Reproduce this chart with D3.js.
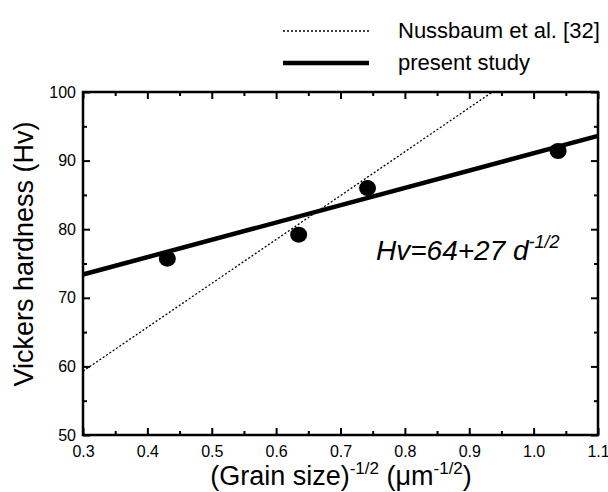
<!DOCTYPE html>
<html>
<head>
<meta charset="utf-8">
<script src="https://cdn.jsdelivr.net/npm/d3@7"></script>
<style>
  body { margin: 0; background: #fff; }
  text { font-family: "Liberation Sans", Arial, sans-serif; fill: #000; }
</style>
</head>
<body>
<svg id="chart" width="608" height="492"></svg>
<script>
// measured points
var grainSize = [0.431, 0.635, 0.742, 1.038]
var hardness = [75.7, 79.2, 86.0, 91.4]

// fitted lines (end points)
var presentLine = [[0.3, 73.4], [1.1, 93.6]]
var nussbaumLine = [[0.3, 59.3], [0.936, 100]]

var xTicks = [0.3, 0.4, 0.5, 0.6, 0.7, 0.8, 0.9, 1.0, 1.1]
var yTicks = [50, 60, 70, 80, 90, 100]

var margin = { top: 92, right: 10, bottom: 57, left: 83 }
var width = 608, height = 492
var plotW = width - margin.left - margin.right
var plotH = height - margin.top - margin.bottom

var svg = d3.select("#chart")

var x = d3.scaleLinear().domain([0.3, 1.1]).range([margin.left, margin.left + plotW])
var y = d3.scaleLinear().domain([50, 100]).range([margin.top + plotH, margin.top])

// minor ticks
var xMinor = d3.range(0.35, 1.1, 0.1)
var yMinor = d3.range(55, 100, 10)

function addAxis(axis, tx, ty) {
  var g = svg.append("g")
    .attr("transform", "translate(" + tx + "," + ty + ")")
    .call(axis)
  g.select(".domain").remove()
  g.selectAll("line").attr("stroke", "#000").attr("stroke-width", 2)
  return g
}

// bottom
var bx = addAxis(d3.axisBottom(x).tickValues(xTicks).tickSize(-7).tickPadding(11).tickFormat(d3.format(".1f")), 0, margin.top + plotH)
bx.selectAll("text").attr("font-size", 16).attr("font-family", "Liberation Sans, Arial, sans-serif")
addAxis(d3.axisBottom(x).tickValues(xMinor).tickSize(-4).tickFormat(""), 0, margin.top + plotH)
// top
addAxis(d3.axisTop(x).tickValues(xTicks).tickSize(-7).tickFormat(""), 0, margin.top)
addAxis(d3.axisTop(x).tickValues(xMinor).tickSize(-4).tickFormat(""), 0, margin.top)
// left
var ly = addAxis(d3.axisLeft(y).tickValues(yTicks).tickSize(-7).tickPadding(7), margin.left, 0)
ly.selectAll("text").attr("font-size", 16).attr("font-family", "Liberation Sans, Arial, sans-serif")
addAxis(d3.axisLeft(y).tickValues(yMinor).tickSize(-4).tickFormat(""), margin.left, 0)
// right
addAxis(d3.axisRight(y).tickValues(yTicks).tickSize(-7).tickFormat(""), margin.left + plotW, 0)
addAxis(d3.axisRight(y).tickValues(yMinor).tickSize(-4).tickFormat(""), margin.left + plotW, 0)

// frame
svg.append("rect")
  .attr("x", margin.left)
  .attr("y", margin.top)
  .attr("width", plotW)
  .attr("height", plotH)
  .attr("fill", "none")
  .attr("stroke", "#000")
  .attr("stroke-width", 2.5)

var line = d3.line().x(function(d){ return x(d[0]) }).y(function(d){ return y(d[1]) })

svg.append("path")
  .datum(nussbaumLine)
  .attr("d", line)
  .attr("fill", "none")
  .attr("stroke", "#000")
  .attr("stroke-width", 1.3)
  .attr("stroke-dasharray", "2,2")

svg.append("path")
  .datum(presentLine)
  .attr("d", line)
  .attr("fill", "none")
  .attr("stroke", "#000")
  .attr("stroke-width", 4.5)

svg.selectAll(".pt")
  .data(grainSize)
  .enter()
  .append("ellipse")
  .attr("class", "pt")
  .attr("cx", function(d){ return x(d) })
  .attr("cy", function(d, i){ return y(hardness[i]) })
  .attr("rx", 8.5)
  .attr("ry", 8)
  .attr("fill", "#000")

// legend
svg.append("line")
  .attr("x1", 283).attr("x2", 369).attr("y1", 31).attr("y2", 31)
  .attr("stroke", "#000").attr("stroke-width", 1.3).attr("stroke-dasharray", "2,2")
svg.append("text").attr("x", 398).attr("y", 38).attr("font-size", 22).text("Nussbaum et al. [32]")
svg.append("line")
  .attr("x1", 283).attr("x2", 369).attr("y1", 63).attr("y2", 63)
  .attr("stroke", "#000").attr("stroke-width", 4.5)
svg.append("text").attr("x", 398).attr("y", 70).attr("font-size", 22).text("present study")

// equation
var eq = svg.append("text")
  .attr("x", 376).attr("y", 260)
  .attr("font-size", 28).attr("font-style", "italic")
eq.append("tspan").text("Hv=64+27 d")
eq.append("tspan").attr("font-size", 18).attr("dy", -12).text("-1/2")

// axis titles
svg.append("text")
  .attr("transform", "translate(33,254) rotate(-90)")
  .attr("text-anchor", "middle")
  .attr("font-size", 27)
  .text("Vickers hardness (Hv)")

var xt = svg.append("text")
  .attr("x", 341)
  .attr("y", 485)
  .attr("text-anchor", "middle")
  .attr("font-size", 27)
xt.append("tspan").text("(Grain size)")
xt.append("tspan").attr("font-size", 17).attr("dy", -11).text("-1/2")
xt.append("tspan").attr("dy", 11).text(" (\u03bcm")
xt.append("tspan").attr("font-size", 17).attr("dy", -11).text("-1/2")
xt.append("tspan").attr("dy", 11).text(")")
</script>
</body>
</html>
